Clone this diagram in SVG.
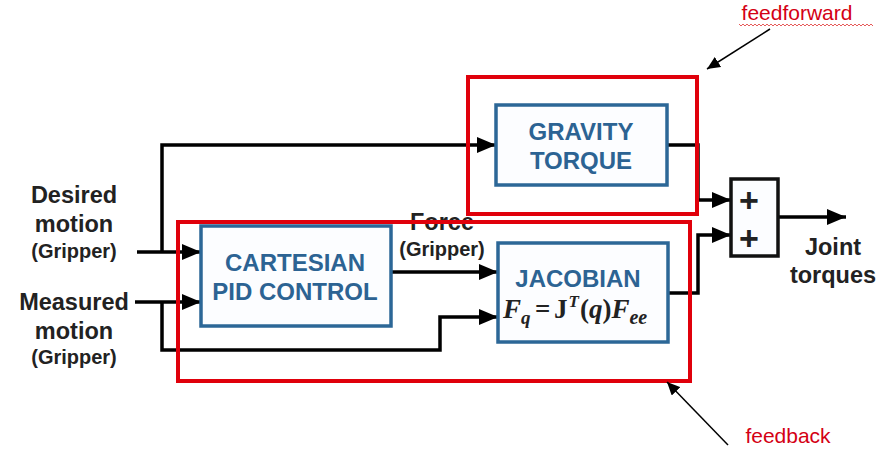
<svg xmlns="http://www.w3.org/2000/svg" width="884" height="449" viewBox="0 0 884 449">
<defs>
<marker id="ah" markerUnits="userSpaceOnUse" markerWidth="20" markerHeight="16" refX="19" refY="8" orient="auto"><path d="M0,0 L19,8 L0,16 Z" fill="#000"/></marker>
<marker id="ah2" markerUnits="userSpaceOnUse" markerWidth="14" markerHeight="12" refX="13" refY="6" orient="auto"><path d="M0,0 L13,6 L0,12 Z" fill="#000"/></marker>
<style>
.blk{fill:#fcfdff;stroke:#2c6797;stroke-width:3.5}
.bt{font-family:"Liberation Sans",Arial,sans-serif;font-weight:bold;font-size:24px;fill:#2c6393;text-anchor:middle}
.lb{font-family:"Liberation Sans",Arial,sans-serif;font-weight:bold;font-size:23.5px;fill:#222;text-anchor:middle}
.sm{font-size:20px}
.plus{font-size:34px}
.ln{fill:none;stroke:#000;stroke-width:3.5;marker-end:url(#ah)}
.red{fill:none;stroke:#e0000b;stroke-width:4}
.ann{font-family:"Liberation Sans",Arial,sans-serif;font-size:21px;fill:#d40014;text-anchor:middle}
.math{font-family:"Liberation Serif","Times New Roman",serif;font-weight:bold;font-size:27px;fill:#222}
</style>
</defs>
<rect width="884" height="449" fill="#ffffff"/>
<g id="labels">
<text class="lb" x="74" y="203">Desired</text>
<text class="lb" x="74" y="232">motion</text>
<text class="lb sm" x="74" y="258">(Gripper)</text>
<text class="lb" x="74" y="310">Measured</text>
<text class="lb" x="74" y="339">motion</text>
<text class="lb sm" x="74" y="364">(Gripper)</text>
<text class="lb" x="442" y="230">Force</text>
<text class="lb sm" x="442" y="256">(Gripper)</text>
<text class="lb" x="833" y="255">Joint</text>
<text class="lb" x="833" y="283">torques</text>
</g>
<g id="connectors">
<path class="ln" d="M137,252 H201"/>
<path class="ln" d="M162,252 V145 H496"/>
<path class="ln" d="M135,302 H201"/>
<path class="ln" d="M162,302 V350 H440 V317 H498"/>
<path class="ln" d="M391,272 H498"/>
<path class="ln" d="M667,145 H698 V200 H731"/>
<path class="ln" d="M668,293 H698 V235 H731"/>
<path class="ln" d="M778,217 H846"/>
</g>
<g id="gravity">
<rect class="blk" x="496" y="105" width="171" height="80"/>
<text class="bt" x="581" y="140">GRAVITY</text>
<text class="bt" x="581" y="169">TORQUE</text>
</g>
<g id="cartesian">
<rect class="blk" x="201" y="226" width="190" height="100"/>
<text class="bt" x="295" y="271">CARTESIAN</text>
<text class="bt" x="295" y="300">PID CONTROL</text>
</g>
<g id="jacobian">
<rect class="blk" x="498" y="243" width="170" height="99"/>
<text class="bt" x="578" y="287">JACOBIAN</text>
<text class="math" y="318"><tspan x="503" font-style="italic">F</tspan><tspan font-style="italic" font-size="19" dy="6">q</tspan><tspan x="535" dy="-6">=</tspan><tspan x="554">J</tspan><tspan font-style="italic" font-size="17" dx="1" dy="-11">T</tspan><tspan dx="1" dy="11">(</tspan><tspan font-style="italic">q</tspan><tspan>)</tspan><tspan font-style="italic">F</tspan><tspan font-style="italic" font-size="20" dy="6">ee</tspan></text>
</g>
<g id="sum">
<rect x="731" y="179" width="47" height="77" fill="#fcfdff" stroke="#111" stroke-width="3.5"/>
<text class="lb plus" x="749" y="212">+</text>
<text class="lb plus" x="749" y="250">+</text>
</g>
<g id="feedforward">
<rect class="red" x="468" y="77" width="229" height="137"/>
<text class="ann" x="797" y="20">feedforward</text>
<path d="M739,24 l2,2 l2,-2 l2,2 l2,-2 l2,2 l2,-2 l2,2 l2,-2 l2,2 l2,-2 l2,2 l2,-2 l2,2 l2,-2 l2,2 l2,-2 l2,2 l2,-2 l2,2 l2,-2 l2,2 l2,-2 l2,2 l2,-2 l2,2 l2,-2 l2,2 l2,-2 l2,2 l2,-2 l2,2 l2,-2 l2,2 l2,-2 l2,2 l2,-2 l2,2 l2,-2 l2,2 l2,-2 l2,2 l2,-2 l2,2 l2,-2 l2,2 l2,-2 l2,2 l2,-2 l2,2 l2,-2 l2,2 l2,-2 l2,2 l2,-2 l2,2 l2,-2 l2,2 l2,-2 l2,2 l2,-2 l2,2 l2,-2 l2,2 l2,-2 l2,2 l2,-2 l2,2" fill="none" stroke="#e03030" stroke-width="0.8"/>
<path d="M770,29 L707,69" fill="none" stroke="#000" stroke-width="1.5" marker-end="url(#ah2)"/>
</g>
<g id="feedback">
<rect class="red" x="178" y="222" width="512" height="159"/>
<text class="ann" x="788" y="443">feedback</text>
<path d="M728,445 L667,382" fill="none" stroke="#000" stroke-width="1.5" marker-end="url(#ah2)"/>
</g>
</svg>
